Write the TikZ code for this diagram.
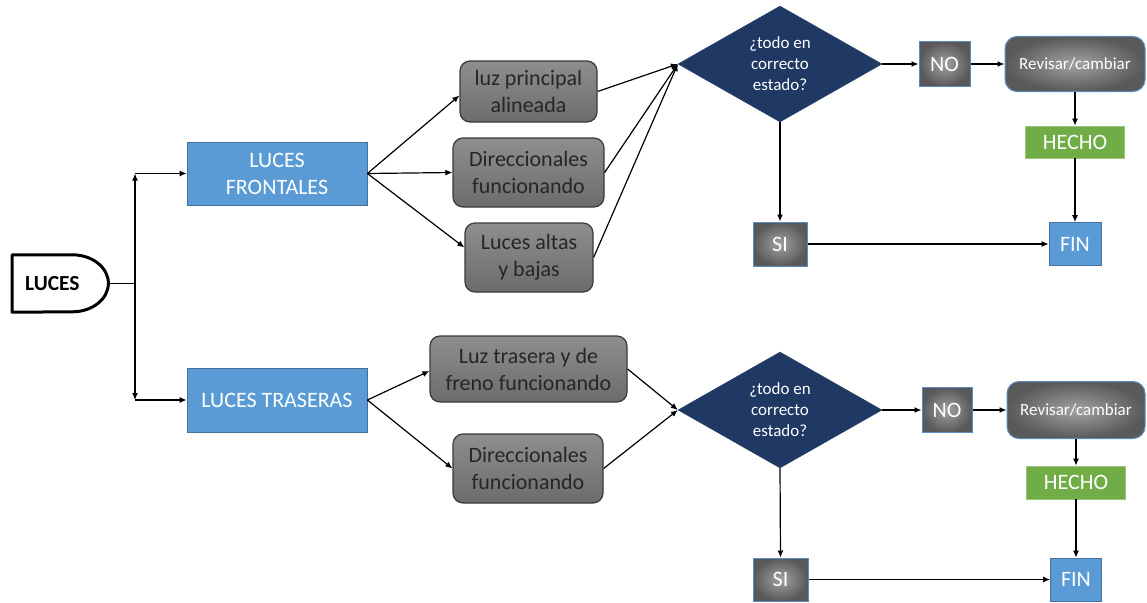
\documentclass[tikz,border=0pt]{standalone}
\usepackage{fontspec}
\setmainfont{Carlito}
\usetikzlibrary{shapes.geometric,arrows.meta}
\definecolor{bluebox}{HTML}{5B9BD5}
\definecolor{blueline}{HTML}{41719C}
\definecolor{navy}{HTML}{1F3864}
\definecolor{greenbox}{HTML}{70AD47}
\definecolor{greenline}{HTML}{9BC57E}
\definecolor{graytop}{HTML}{8E8E8E}
\definecolor{graybot}{HTML}{6C6C6C}
\definecolor{grayline}{HTML}{3A3A3A}
\definecolor{grayin}{HTML}{A2A2A2}
\definecolor{grayout}{HTML}{595959}
\definecolor{lightblueline}{HTML}{5B8BBF}
\definecolor{darktext}{HTML}{262626}
\tikzset{
  bigtext/.style={font=\fontsize{22}{27}\selectfont},
  bluenode/.style={rectangle, fill=bluebox, draw=blueline, line width=0.8pt, text=white, bigtext, align=center, inner sep=0pt},
  graybox/.style={rectangle, rounded corners=10pt, top color=graytop, bottom color=graybot, draw=grayline, line width=1.2pt, text=darktext, bigtext, align=center, inner sep=0pt},
  radbox/.style={rectangle, shading=radial, inner color=grayin, outer color=grayout, draw=lightblueline, line width=1pt, text=white, inner sep=0pt, align=center},
  greenbox/.style={rectangle, fill=greenbox, draw=greenline, line width=0.8pt, text=white, bigtext, inner sep=0pt},
  dia/.style={diamond, fill=navy, draw=navy, inner sep=0pt, minimum width=204pt, minimum height=116pt},
  diatext/.style={text=white, align=center, font=\fontsize{17}{21}\selectfont},
  conn/.style={line width=1.2pt, draw=black},
  arr/.style={conn, -{Latex[length=7pt,width=6pt]}},
}
\begin{document}
\begin{tikzpicture}[x=1pt,y=-1pt]
\useasboundingbox (0,0) rectangle (1147,602);

% start node
\node[anchor=west, minimum width=96pt, minimum height=57pt, inner xsep=13pt, inner ysep=0pt, text width=70pt, align=left, font=\fontsize{21.5}{25}\selectfont\bfseries] (start) at (12,283.5) {LUCES};
\draw[line width=3pt, line join=round] (start.north west) -- ([xshift=-36pt]start.north east)
  arc[start angle=90, end angle=-90, x radius=36pt, y radius=28.5pt] -- (start.south west) -- cycle;

% level 1
\node[bluenode, minimum width=180pt, minimum height=63pt] (front) at (277,173.5) {LUCES\\FRONTALES};
\node[bluenode, minimum width=180pt, minimum height=64pt] (rear) at (277,400) {LUCES TRASERAS};

% gray boxes
\node[graybox, minimum width=137pt, minimum height=61pt] (b1) at (528.5,91.5) {luz principal\\alineada};
\node[graybox, minimum width=151pt, minimum height=69pt] (b2) at (528.5,172.5) {Direccionales\\funcionando};
\node[graybox, minimum width=128pt, minimum height=69pt] (b3) at (529,257.5) {Luces altas\\y bajas};
\node[graybox, minimum width=197pt, minimum height=66pt] (b4) at (528.5,369) {Luz trasera y de\\freno funcionando};
\node[graybox, minimum width=150pt, minimum height=69pt] (b5) at (528,468.5) {Direccionales\\funcionando};

% diamonds
\node[dia] (d1) at (780,64) {};
\node[diatext] (t1) at (d1) {¿todo en\\correcto\\estado?};
\node[dia] (d2) at (780,410) {};
\node[diatext] (t2) at (d2) {¿todo en\\correcto\\estado?};

% top right
\node[radbox, minimum width=51pt, minimum height=44pt, bigtext] (no1) at (944.5,64) {NO};
\node[radbox, rounded corners=12pt, minimum width=140pt, minimum height=55pt, font=\fontsize{17}{21}\selectfont] (rv1) at (1075,64) {Revisar/cambiar};
\node[greenbox, minimum width=99pt, minimum height=32pt] (h1) at (1075,142) {HECHO};
\node[bluenode, minimum width=52pt, minimum height=43pt] (fin1) at (1075,244) {FIN};
\node[radbox, minimum width=54pt, minimum height=44pt, bigtext] (si1) at (780,244) {SI};

% bottom right
\node[radbox, minimum width=50pt, minimum height=45pt, bigtext] (no2) at (947,410) {NO};
\node[radbox, rounded corners=12pt, minimum width=138pt, minimum height=57pt, font=\fontsize{17}{21}\selectfont] (rv2) at (1076,410) {Revisar/cambiar};
\node[greenbox, minimum width=99pt, minimum height=33pt] (h2) at (1076,482.5) {HECHO};
\node[bluenode, minimum width=51pt, minimum height=43pt] (fin2) at (1076,579.5) {FIN};
\node[radbox, minimum width=55pt, minimum height=43pt, bigtext] (si2) at (780.5,579.5) {SI};

% connectors from start
\coordinate (j) at (135,283.5);
\draw[conn] (start.east) -- (j);
\draw[arr] (j) -- (j |- front.west);
\draw[arr] (j) -- (j |- rear.west);
\draw[arr] (j |- front.west) -- (front.west);
\draw[arr] (j |- rear.west) -- (rear.west);

% front branches
\draw[arr] (front.east) -- ([yshift=-4pt]b1.west);
\draw[arr] (front.east) -- (b2.west);
\draw[arr] (front.east) -- ([yshift=10pt]b3.west);
\draw[arr] (b1.east) -- (d1.west);
\draw[arr] (b2.east) -- (d1.west);
\draw[arr] (b3.east) -- (d1.west);

% rear branches
\draw[arr] (rear.east) -- ([yshift=-2pt]b4.west);
\draw[arr] (rear.east) -- (b5.west);
\draw[arr] (b4.east) -- (d2.west);
\draw[arr] (b5.east) -- (d2.west);

% top right flow
\draw[arr] (d1.east) -- (no1.west);
\draw[arr] (no1.east) -- (rv1.west);
\draw[arr] (rv1.south) -- (h1.north);
\draw[arr] (h1.south) -- (fin1.north);
\draw[arr] (d1.south) -- (si1.north);
\draw[arr] (si1.east) -- (fin1.west);

% bottom right flow
\draw[arr] (d2.east) -- (no2.west);
\draw[arr] (no2.east) -- (rv2.west);
\draw[arr] (rv2.south) -- (h2.north);
\draw[arr] (h2.south) -- (fin2.north);
\draw[arr] (d2.south) -- (si2.north);
\draw[arr] (si2.east) -- (fin2.west);
\end{tikzpicture}
\end{document}
